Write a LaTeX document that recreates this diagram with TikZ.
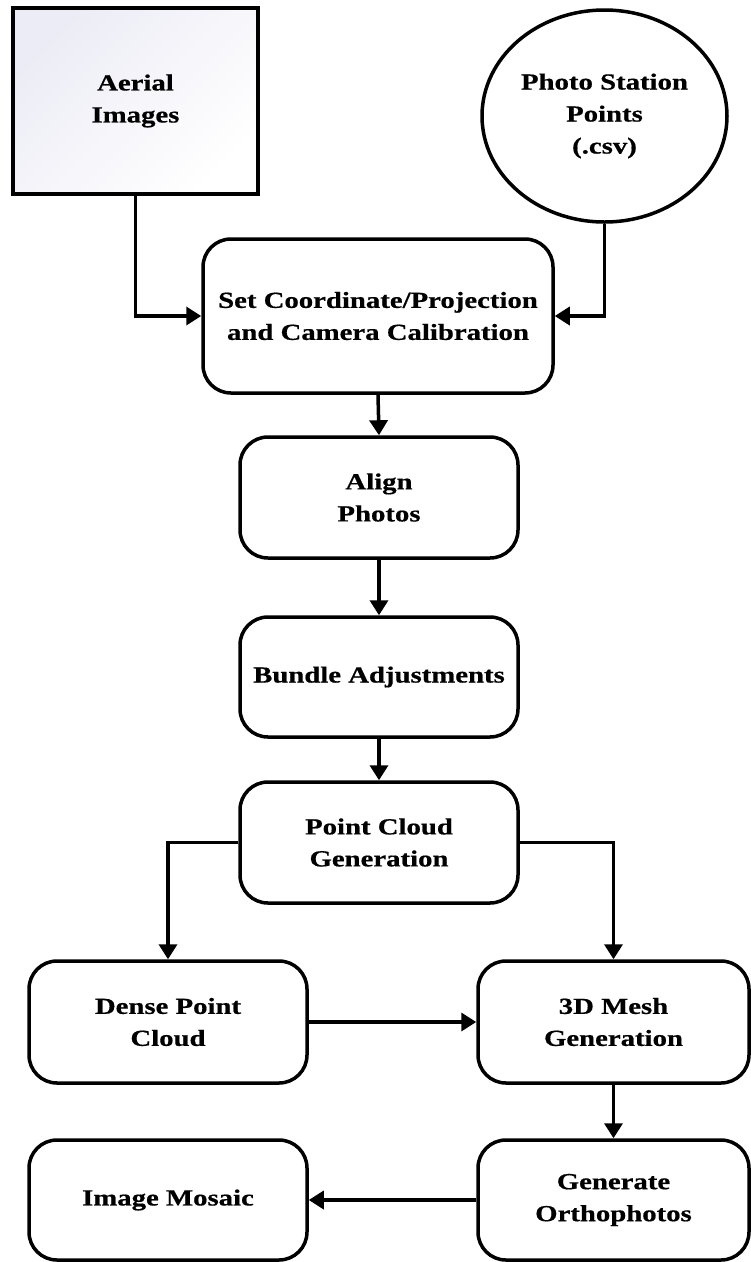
\documentclass[tikz,border=0pt]{standalone}
\usepackage{fontspec}
\setmainfont[FakeStretch=1.25,FakeBold=0.6]{Liberation Serif}
\usetikzlibrary{arrows.meta,shapes.geometric}
\tikzset{
  box/.style={draw=black, line width=3.5pt, rounded corners=28pt, fill=white, align=center,
    font=\fontsize{23}{32}\selectfont\bfseries, inner sep=0pt},
  conn/.style={line width=3.5pt, -{Triangle[length=15pt,width=18pt]}}
}
\begin{document}
\begin{tikzpicture}[x=1pt,y=-1pt]
\useasboundingbox (0,0) rectangle (751,1262);
\node[box, rounded corners=0pt, minimum width=245pt, minimum height=186pt,
  top color={rgb,255:red,236;green,236;blue,246}, bottom color=white, shading angle=45]
  (aerial) at (135.5,101) {Aerial\\Images};
\node[box, ellipse, minimum width=245pt, minimum height=212pt] (photo) at (604.5,116)
  {Photo Station\\Points\\(.csv)};
\node[box, minimum width=350pt, minimum height=154pt] (setc) at (378,316)
  {Set Coordinate/Projection\\and Camera Calibration};
\node[box, minimum width=278pt, minimum height=121pt] (align) at (379,497.5) {Align\\Photos};
\node[box, minimum width=278pt, minimum height=120pt] (bundle) at (379,677) {Bundle Adjustments};
\node[box, minimum width=278pt, minimum height=121pt] (pcg) at (379,842.5) {Point Cloud\\Generation};
\node[box, minimum width=278pt, minimum height=122pt] (dense) at (168,1022) {Dense Point\\Cloud};
\node[box, minimum width=271pt, minimum height=122pt] (mesh) at (613.5,1022) {3D Mesh\\Generation};
\node[box, minimum width=278pt, minimum height=120pt] (mosaic) at (168,1200) {Image Mosaic};
\node[box, minimum width=271pt, minimum height=120pt] (ortho) at (613.5,1200) {Generate\\Orthophotos};
\draw[conn] (aerial.south) |- (setc.west);
\draw[conn] (photo.south) |- (setc.east);
\draw[conn] (setc.south) -- (align.north);
\draw[conn] (align.south) -- (bundle.north);
\draw[conn] (bundle.south) -- (pcg.north);
\draw[conn] (pcg.west) -| (dense.north);
\draw[conn] (pcg.east) -| (mesh.north);
\draw[conn] (dense.east) -- (mesh.west);
\draw[conn] (mesh.south) -- (ortho.north);
\draw[conn] (ortho.west) -- (mosaic.east);
\end{tikzpicture}
\end{document}
